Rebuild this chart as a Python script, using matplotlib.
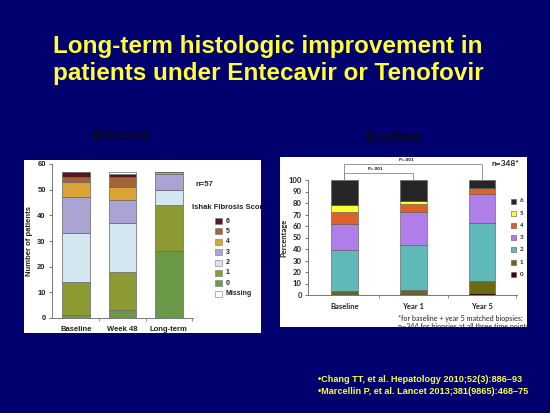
import matplotlib.pyplot as plt
from matplotlib.patches import Rectangle
import numpy as np

W, H = 550, 413
NAVY = '#00006e'
YELLOW = '#ffff33'

# Entecavir panel (number of patients, n=57)
etv_groups = ['Baseline', 'Week 48', 'Long-term']
etv_labels = ['0', '1', '2', '3', '4', '5', '6', 'Missing']
etv_s0 = [1, 3, 26]
etv_s1 = [13, 15, 18]
etv_s2 = [19, 19, 6]
etv_s3 = [14, 9, 6]
etv_s4 = [6, 5, 1]
etv_s5 = [2, 4, 0]
etv_s6 = [2, 1, 0]
etv_miss = [0, 1, 0]
etv_colors = ['#6a9a48', '#8d9a33', '#d3e6f0', '#a9a4d4', '#dba333',
              '#a3643a', '#5a1620', '#ffffff']

# Tenofovir panel (percentage of biopsies)
tdf_groups = ['Baseline', 'Year 1', 'Year 5']
tdf_labels = ['0', '1', '2', '3', '4', '5', '6']
tdf_s0 = [0.5, 0.5, 1.5]
tdf_s1 = [3.0, 4.0, 10.5]
tdf_s2 = [35.5, 39.0, 51.0]
tdf_s3 = [23.0, 28.5, 25.0]
tdf_s4 = [10.5, 7.0, 4.0]
tdf_s5 = [5.5, 2.5, 1.0]
tdf_s6 = [22.0, 18.5, 7.0]
tdf_colors = ['#3a0a0a', '#6b6b15', '#5fb9b9', '#b07ee8', '#e0602a',
              '#ffff33', '#262626']


def px(x0, y0, x1, y1):
    return [x0 / W, 1 - y1 / H, (x1 - x0) / W, (y1 - y0) / H]


def panel(x0, y0, x1, y1):
    p = fig.add_axes(px(x0, y0, x1, y1), zorder=0)
    p.set_facecolor('white')
    p.set_xlim(x0, x1)
    p.set_ylim(y1, y0)
    p.set_xticks([])
    p.set_yticks([])
    for s in p.spines.values():
        s.set_visible(False)
    return p


fig = plt.figure(figsize=(W / 100, H / 100), dpi=100, facecolor=NAVY)

# title
fig.text(268 / W, 1 - 60 / H, 'Long-term histologic improvement in\npatients under Entecavir or Tenofovir',
         ha='center', va='center', color=YELLOW, fontsize=17.5, fontweight='bold',
         family='Liberation Sans', linespacing=1.25)

fig.text(121 / W, 1 - 136 / H, 'Entecavir', ha='center', va='center', color='#0a0a14',
         fontsize=9.5, fontweight='bold', family='Liberation Sans')
fig.text(394 / W, 1 - 138 / H, 'Tenofovir', ha='center', va='center', color='#0a0a14',
         fontsize=9.5, fontweight='bold', family='Liberation Sans')

# ---------------- Entecavir ----------------
pl = panel(24, 160, 261, 333)
ax1 = fig.add_axes(px(52, 164, 193, 318), zorder=1)
ax1.set_facecolor('none')
etv_data = [etv_s0, etv_s1, etv_s2, etv_s3, etv_s4, etv_s5, etv_s6, etv_miss]
x = np.arange(len(etv_groups))
bottom = np.zeros(len(etv_groups))
for vals, col in zip(etv_data, etv_colors):
    ax1.bar(x, vals, 0.6, bottom=bottom, color=col, edgecolor='#666666', linewidth=0.5)
    bottom += np.array(vals)
ax1.set_xlim(-0.52, 2.52)
ax1.set_ylim(0, 60)
ax1.set_yticks(range(0, 61, 10))
ax1.set_xticks(x)
ax1.set_xticklabels(etv_groups)
ax1.set_xticks([0.5, 1.5, 2.5], minor=True)
ax1.tick_params(axis='x', which='major', length=0, pad=6)
ax1.tick_params(axis='x', which='minor', length=2.5, color='#777777', direction='out')
ax1.tick_params(axis='y', length=2.5, color='#777777', pad=2)
for lab in ax1.get_xticklabels() + ax1.get_yticklabels():
    lab.set_fontsize(5.5)
    lab.set_fontweight('bold')
    lab.set_family('Liberation Sans')
    lab.set_color('#222222')
for s in ['top', 'right']:
    ax1.spines[s].set_visible(False)
for s in ['left', 'bottom']:
    ax1.spines[s].set_color('#777777')
    ax1.spines[s].set_linewidth(0.7)
ax1.set_ylabel('Number of patients', fontsize=5.5, fontweight='bold',
               family='Liberation Sans', color='#222222', labelpad=3)

pl.text(196, 184, 'n=57', fontsize=5.5, fontweight='bold', family='Liberation Sans',
        va='center', color='#222222', clip_on=True)
pl.text(192, 207, 'Ishak Fibrosis Score', fontsize=5.5, fontweight='bold',
        family='Liberation Sans', va='center', color='#222222', clip_on=True)
leg_order = [6, 5, 4, 3, 2, 1, 0, 7]
for i, k in enumerate(leg_order):
    yc = 221 + i * 10.4
    pl.add_patch(Rectangle((215, yc - 3), 7, 6, facecolor=etv_colors[k],
                           edgecolor='#777777', lw=0.4))
    pl.text(226, yc, etv_labels[k], fontsize=5, fontweight='bold', family='Liberation Sans',
            va='center', color='#222222')

# ---------------- Tenofovir ----------------
pr = panel(280, 157, 527, 327)
ax2 = fig.add_axes(px(308, 180, 517, 295), zorder=1)
ax2.set_facecolor('none')
tdf_data = [tdf_s0, tdf_s1, tdf_s2, tdf_s3, tdf_s4, tdf_s5, tdf_s6]
x = np.arange(len(tdf_groups))
bottom = np.zeros(len(tdf_groups))
for vals, col in zip(tdf_data, tdf_colors):
    ax2.bar(x, vals, 0.39, bottom=bottom, color=col, edgecolor='#555555', linewidth=0.4)
    bottom += np.array(vals)
ax2.set_xlim(-0.53, 2.51)
ax2.set_ylim(0, 100)
ax2.set_yticks(range(0, 101, 10))
ax2.set_xticks(x)
ax2.set_xticklabels(tdf_groups)
ax2.set_xticks([0.5, 1.5, 2.5], minor=True)
ax2.tick_params(axis='x', which='major', length=0, pad=6)
ax2.tick_params(axis='x', which='minor', length=2.5, color='#777777', direction='out')
ax2.tick_params(axis='y', length=2.5, color='#777777', pad=2)
for lab in ax2.get_xticklabels() + ax2.get_yticklabels():
    lab.set_fontsize(5.5)
    lab.set_fontweight('bold')
    lab.set_family('Lato')
    lab.set_color('#222222')
for s in ['top', 'right']:
    ax2.spines[s].set_visible(False)
for s in ['left', 'bottom']:
    ax2.spines[s].set_color('#777777')
    ax2.spines[s].set_linewidth(0.7)
ax2.set_ylabel('Percentage', fontsize=5.5, fontweight='bold', family='Lato',
               color='#222222', labelpad=1)

# significance brackets
ax2.plot([0, 0, 1, 1], [100, 106, 106, 100], color='#888888', lw=0.6, clip_on=False)
ax2.plot([0, 0, 2, 2], [100, 114, 114, 100], color='#888888', lw=0.6, clip_on=False)
ax2.text(0.45, 108, 'P<.001', fontsize=2.8, fontweight='bold', ha='center', va='bottom',
         color='#222222', clip_on=False)
ax2.text(0.9, 115.5, 'P<.001', fontsize=2.8, fontweight='bold', ha='center', va='bottom',
         color='#222222', clip_on=False)

pr.text(505, 164, 'n=348*', fontsize=6, fontweight='bold', family='Lato',
        ha='center', va='center', color='#222222', clip_on=True)
for i, (lab, col) in enumerate(zip(tdf_labels[::-1], tdf_colors[::-1])):
    yc = 201 + i * 12.2
    pr.add_patch(Rectangle((511, yc - 2.5), 5, 5, facecolor=col, edgecolor='#555555', lw=0.4))
    pr.text(520, yc, lab, fontsize=4.5, fontweight='bold', family='Lato',
            va='center', color='#222222')
pr.text(398, 318, '*for baseline + year 5 matched biopsies;', fontsize=5.1,
        family='Lato', va='center', color='#222222', clip_on=True)
pr.text(398, 326, 'n=344 for biopsies at all three time points', fontsize=5.1,
        family='Lato', va='center', color='#222222', clip_on=True)

# references
fig.text(318 / W, 1 - 380 / H, '•Chang TT, et al. Hepatology 2010;52(3):886–93',
         fontsize=6.6, fontweight='bold', family='Liberation Sans', color=YELLOW, va='center')
fig.text(318 / W, 1 - 391 / H, '•Marcellin P, et al. Lancet 2013;381(9865):468–75',
         fontsize=6.6, fontweight='bold', family='Liberation Sans', color=YELLOW, va='center')

fig.savefig('out.png', dpi=100, facecolor=NAVY)
